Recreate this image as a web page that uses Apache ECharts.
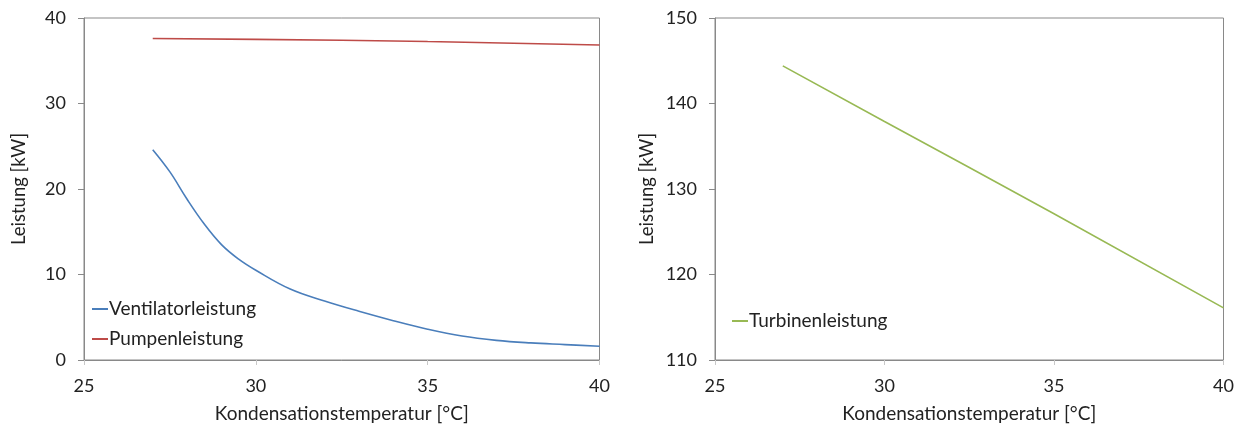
<!DOCTYPE html>
<html><head><meta charset="utf-8">
<script src="https://cdn.jsdelivr.net/npm/echarts@6/dist/echarts.min.js"></script>
<style>html,body{margin:0;padding:0;background:#fff}#c{width:1240px;height:428px}</style>
</head><body><div id="c"></div>
<script>
const tempVent = [27, 27.5, 28, 28.5, 29, 29.5, 30, 31, 32, 33, 34, 35, 36, 37, 38, 39, 40];
const ventilator = [24.6, 22.0, 18.8, 15.9, 13.5, 11.8, 10.5, 8.3, 6.9, 5.7, 4.6, 3.6, 2.8, 2.3, 2.0, 1.8, 1.6];
const tempPump = [27, 30, 35, 40];
const pumpe = [37.6, 37.5, 37.25, 36.85];
const tempTurb = [27, 30, 35, 40];
const turbine = [144.4, 137.9, 127.1, 116.1];

const font = 'Lato';
const axisGray = '#898989';
function xAxis(idx){
  return {gridIndex: idx, type: 'value', min: 25, max: 40, interval: 5,
    name: 'Kondensationstemperatur [°C]', nameLocation: 'middle', nameGap: 44,
    nameTextStyle: {fontFamily: font, fontSize: 19, color: '#222'},
    axisLine: {show: true, lineStyle: {color: axisGray}},
    axisTick: {show: true, length: 5, lineStyle: {color: '#c8c8c8'}},
    axisLabel: {fontFamily: font, fontSize: 18, color: '#222', margin: 17},
    splitLine: {show: false}};
}
function yAxis(idx, min, max){
  return {gridIndex: idx, type: 'value', min: min, max: max, interval: 10,
    name: 'Leistung [kW]', nameLocation: 'middle', nameGap: idx === 0 ? 55 : 58,
    nameTextStyle: {fontFamily: font, fontSize: 18.5, color: '#222'},
    axisLine: {show: true, lineStyle: {color: axisGray}},
    axisTick: {show: true, length: 6, lineStyle: {color: axisGray}},
    axisLabel: {fontFamily: font, fontSize: 18, color: '#222', margin: 18},
    splitLine: {show: false}};
}
const chart = echarts.init(document.getElementById('c'), null, {renderer: 'canvas'});
chart.setOption({
  animation: false,
  grid: [
    {left: 84, right: 640.5, top: 18, bottom: 67, show: true, borderColor: axisGray, borderWidth: 1},
    {left: 715, right: 16.5, top: 18, bottom: 67, show: true, borderColor: axisGray, borderWidth: 1}
  ],
  xAxis: [xAxis(0), xAxis(1)],
  yAxis: [yAxis(0, 0, 40), yAxis(1, 110, 150)],
  legend: [
    {orient: 'vertical', left: 92, top: 299, padding: 0, itemGap: 10, itemWidth: 16, itemHeight: 2, icon: 'rect',
     textStyle: {fontFamily: font, fontSize: 19, lineHeight: 20, color: '#222', padding: [0,0,0,-4]},
     data: ['Ventilatorleistung', 'Pumpenleistung']},
    {orient: 'vertical', left: 732, top: 311, padding: 0, itemWidth: 16, itemHeight: 2, icon: 'rect',
     textStyle: {fontFamily: font, fontSize: 19, lineHeight: 20, color: '#222', padding: [0,0,0,-4]},
     data: ['Turbinenleistung']}
  ],
  series: [
    {name: 'Ventilatorleistung', type: 'line', xAxisIndex: 0, yAxisIndex: 0, smooth: 0.4, symbol: 'none',
     color: '#4a7ebb', lineStyle: {width: 1.6}, data: tempVent.map((t,i)=>[t, ventilator[i]])},
    {name: 'Pumpenleistung', type: 'line', xAxisIndex: 0, yAxisIndex: 0, smooth: true, symbol: 'none',
     color: '#be4b48', lineStyle: {width: 1.6}, data: tempPump.map((t,i)=>[t, pumpe[i]])},
    {name: 'Turbinenleistung', type: 'line', xAxisIndex: 1, yAxisIndex: 1, smooth: true, symbol: 'none',
     color: '#98b954', lineStyle: {width: 1.6}, data: tempTurb.map((t,i)=>[t, turbine[i]])}
  ]
});
</script></body></html>
